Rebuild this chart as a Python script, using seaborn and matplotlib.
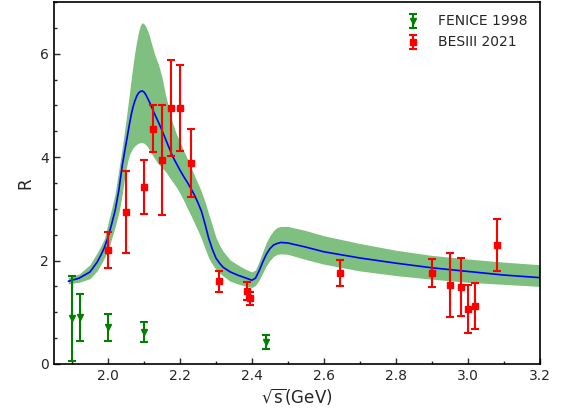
import matplotlib
matplotlib.use("Agg")
import matplotlib.pyplot as plt
from matplotlib.ticker import MultipleLocator
import seaborn as sns
import pandas as pd

# ---- model curve and uncertainty band ----
curve_x = [1.89, 1.92, 1.95, 1.97, 1.98, 1.99, 2.00, 2.01, 2.02, 2.03, 2.035, 2.04,
           2.045, 2.05, 2.055, 2.06, 2.065, 2.07, 2.075, 2.08, 2.085, 2.09, 2.095,
           2.10, 2.105, 2.11, 2.115, 2.12, 2.13, 2.14, 2.15, 2.16, 2.17, 2.18, 2.19,
           2.20, 2.21, 2.22, 2.23, 2.24, 2.25, 2.26, 2.27, 2.28, 2.29, 2.30, 2.31,
           2.32, 2.34, 2.36, 2.38, 2.40, 2.41, 2.42, 2.43, 2.44, 2.45, 2.46, 2.47,
           2.48, 2.50, 2.55, 2.60, 2.70, 2.80, 2.90, 3.00, 3.10, 3.20]
curve_y = [1.60, 1.66, 1.78, 1.97, 2.10, 2.25, 2.45, 2.70, 2.97, 3.35, 3.60, 3.85,
           4.05, 4.25, 4.45, 4.65, 4.83, 4.98, 5.09, 5.18, 5.24, 5.27, 5.28,
           5.26, 5.21, 5.14, 5.07, 4.99, 4.83, 4.68, 4.52, 4.35, 4.18, 4.01, 3.88,
           3.75, 3.63, 3.52, 3.40, 3.27, 3.12, 2.95, 2.70, 2.43, 2.22, 2.05, 1.95,
           1.87, 1.78, 1.72, 1.67, 1.62, 1.66, 1.80, 1.97, 2.12, 2.23, 2.30, 2.33,
           2.35, 2.34, 2.26, 2.17, 2.05, 1.95, 1.86, 1.79, 1.72, 1.67]
band_hi = [1.67, 1.74, 1.92, 2.15, 2.28, 2.42, 2.72, 3.00, 3.30, 3.75, 3.98, 4.20,
           4.45, 4.70, 4.98, 5.25, 5.53, 5.80, 6.04, 6.25, 6.42, 6.55, 6.60,
           6.58, 6.53, 6.45, 6.35, 6.22, 5.98, 5.80, 5.55, 5.20, 4.92, 4.65, 4.45,
           4.29, 4.13, 3.98, 3.82, 3.65, 3.49, 3.33, 3.13, 2.90, 2.68, 2.45, 2.30,
           2.18, 2.01, 1.92, 1.84, 1.78, 1.82, 1.98, 2.17, 2.35, 2.48, 2.58, 2.64,
           2.66, 2.66, 2.58, 2.48, 2.33, 2.20, 2.10, 2.03, 1.97, 1.92]
band_lo = [1.55, 1.58, 1.65, 1.80, 1.92, 2.05, 2.18, 2.42, 2.65, 2.92, 3.10, 3.30,
           3.55, 3.75, 3.92, 4.05, 4.12, 4.18, 4.22, 4.25, 4.27, 4.28, 4.28,
           4.27, 4.24, 4.20, 4.14, 4.08, 3.97, 3.87, 3.80, 3.72, 3.62, 3.52, 3.42,
           3.30, 3.17, 3.02, 2.88, 2.73, 2.58, 2.42, 2.23, 2.05, 1.93, 1.83, 1.76,
           1.70, 1.60, 1.55, 1.51, 1.48, 1.52, 1.62, 1.76, 1.90, 2.00, 2.08, 2.12,
           2.13, 2.12, 2.02, 1.93, 1.80, 1.71, 1.64, 1.58, 1.54, 1.50]

# ---- BESIII 2021 ----
bes_x = [2.000, 2.050, 2.100, 2.125, 2.150, 2.175, 2.200, 2.232, 2.309, 2.386,
         2.396, 2.644, 2.900, 2.950, 2.981, 3.000, 3.020, 3.080]
bes_y = [2.20, 2.94, 3.42, 4.55, 3.95, 4.95, 4.95, 3.89, 1.60, 1.41,
         1.27, 1.76, 1.76, 1.52, 1.49, 1.06, 1.12, 2.30]
bes_err = [0.35, 0.80, 0.52, 0.45, 1.06, 0.92, 0.83, 0.66, 0.20, 0.17,
           0.12, 0.25, 0.27, 0.62, 0.56, 0.47, 0.44, 0.51]

# ---- FENICE 1998 ----
fen_x = [1.900, 1.922, 2.000, 2.100, 2.440]
fen_y = [0.88, 0.90, 0.71, 0.62, 0.43]
fen_err = [0.82, 0.46, 0.26, 0.19, 0.14]

sns.set_style("ticks")
plt.rcParams['font.family'] = ['DejaVu Sans']
plt.rcParams['mathtext.fontset'] = 'dejavusans'

fig = plt.figure(figsize=(5.7, 4.15), dpi=100)
ax = fig.add_axes([0.0947, 0.1229, 0.8523, 0.8723])

df = pd.DataFrame({"x": curve_x, "y": curve_y, "lo": band_lo, "hi": band_hi})
ax.fill_between(df["x"], df["lo"], df["hi"], color="green", alpha=0.5,
                linewidth=0, zorder=1)
sns.lineplot(data=df, x="x", y="y", color="blue", linewidth=1.2, ax=ax,
             zorder=2, legend=False)

h_fen = ax.errorbar(fen_x, fen_y, yerr=fen_err, fmt="v", color="green",
                    markersize=4, capsize=3, elinewidth=1.5, capthick=1.5,
                    zorder=3, label="FENICE 1998")
h_bes = ax.errorbar(bes_x, bes_y, yerr=bes_err, fmt="s", color="red",
                    markersize=5, capsize=3, elinewidth=1.5, capthick=1.5,
                    zorder=4, label="BESIII 2021")

ax.set_xlim(1.85, 3.2)
ax.set_ylim(0, 7)
ax.xaxis.set_major_locator(MultipleLocator(0.2))
ax.xaxis.set_minor_locator(MultipleLocator(0.1))
ax.yaxis.set_major_locator(MultipleLocator(2))
ax.yaxis.set_minor_locator(MultipleLocator(0.5))
ax.tick_params(which="both", direction="in", labelsize=10, width=1.0)
ax.tick_params(which="major", length=4)
ax.tick_params(which="minor", length=2.5)
for s in ax.spines.values():
    s.set_visible(True)
    s.set_linewidth(1.2)
    s.set_color("black")

ax.set_xlabel(r"$\sqrt{\mathrm{s}}$(GeV)", fontsize=12, labelpad=2)
ax.set_ylabel("R", fontsize=12)

ax.legend(handles=[h_fen, h_bes], loc="upper right", frameon=False,
          fontsize=10, bbox_to_anchor=(1.0, 1.0))

fig.savefig("out.png", dpi=100)
